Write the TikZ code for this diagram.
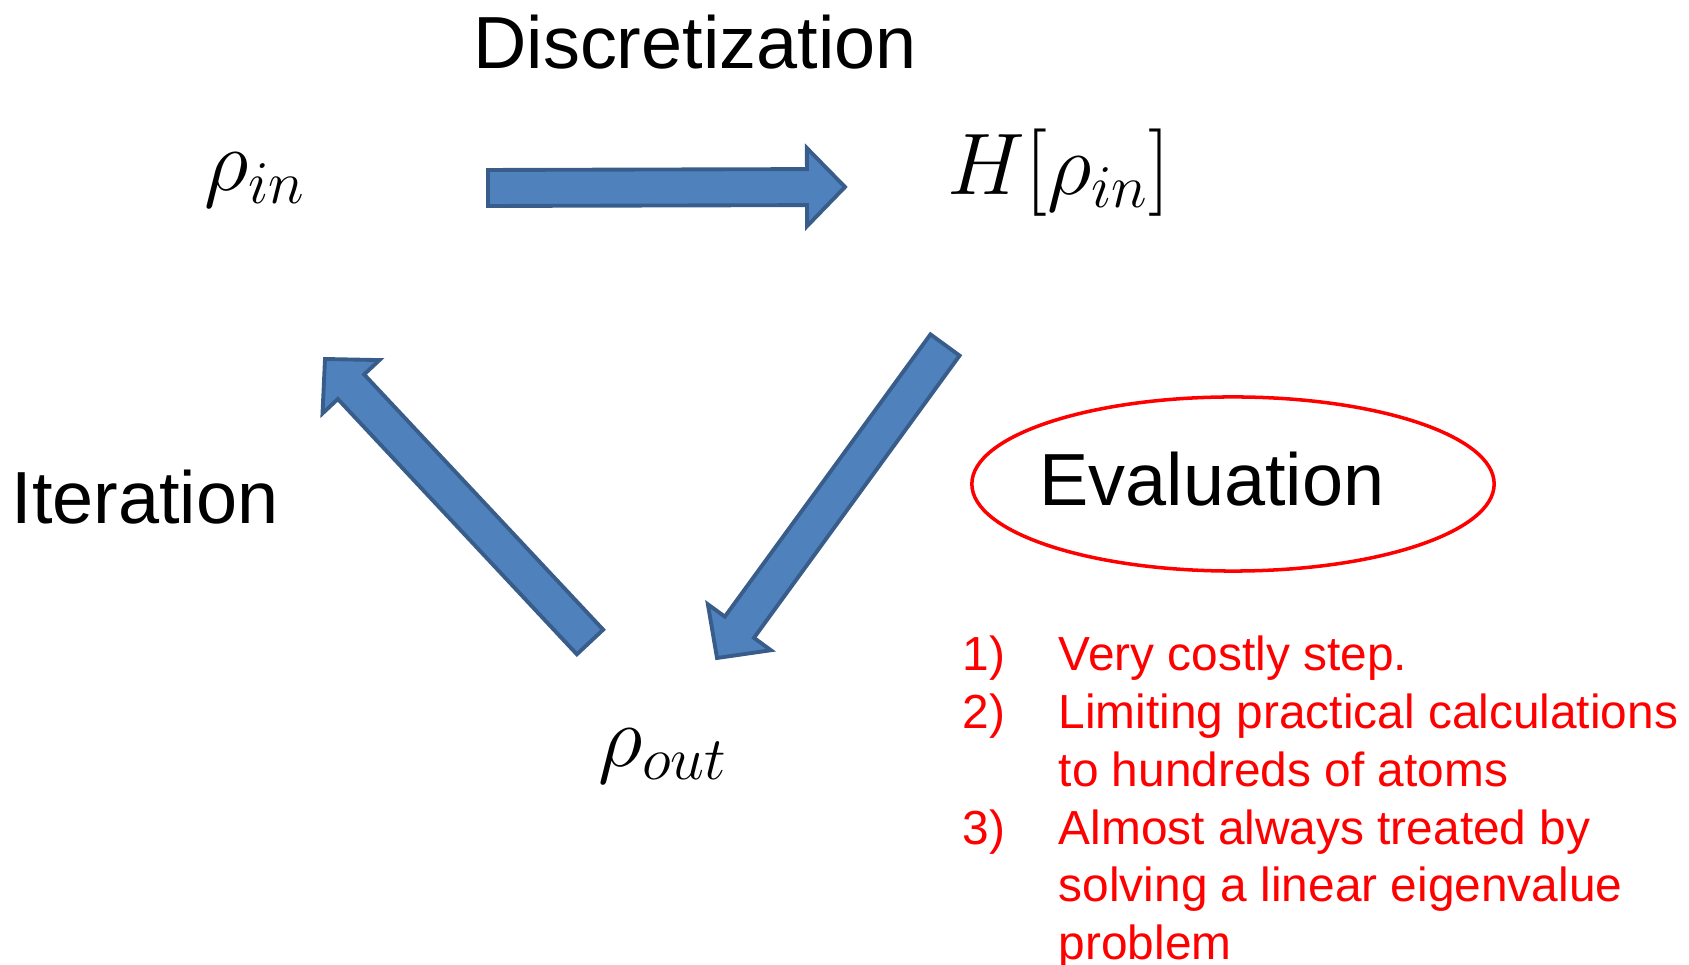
\documentclass[tikz,border=0pt]{standalone}
\usepackage{fontspec}
\setmainfont{Liberation Sans}
\definecolor{cBlue}{HTML}{4F81BD}
\definecolor{cEdge}{HTML}{385D8A}
\definecolor{cRed}{HTML}{FF0000}
\usetikzlibrary{calc,shapes.geometric}

\begin{document}
\begin{tikzpicture}[x=0.01cm,y=-0.01cm,
      ttl/.style={font=\fontsize{21}{25}\selectfont,inner sep=0pt},
      sym/.style={font=\fontsize{25}{30}\selectfont,inner sep=0pt},
      ring/.style={ellipse,draw=cRed,line width=1pt,inner sep=0pt,
                   minimum width=5.22cm,minimum height=1.74cm},
      note/.style={font=\fontsize{13.6}{16.4}\selectfont,color=cRed,inner sep=0pt},
      blk/.style={draw=cEdge,fill=cBlue,line width=1.1pt,
        to path={($(\tikztostart)!.18cm!90:(\tikztotarget)$)
          -- ($(\tikztotarget)!.38cm!(\tikztostart)!.18cm!90:(\tikztotarget)$)
          -- ($(\tikztotarget)!.38cm!(\tikztostart)!.39cm!90:(\tikztotarget)$)
          -- (\tikztotarget)
          -- ($(\tikztotarget)!.38cm!(\tikztostart)!.39cm!-90:(\tikztotarget)$)
          -- ($(\tikztotarget)!.38cm!(\tikztostart)!.18cm!-90:(\tikztotarget)$)
          -- ($(\tikztostart)!.18cm!-90:(\tikztotarget)$) -- cycle}}]
    \useasboundingbox (0,0) rectangle (1689,965);
    \node[ttl] (disc) at (695,42) {Discretization};
    \node[ttl] (iter) at (145,497) {Iteration};
    \node[sym] (rin) at (255,180) {$\rho_{in}$};
    \node[sym] (ham) at (1059,173) {$H[\rho_{in}]$};
    \node[sym] (rout) at (663,756) {$\rho_{out}$};
    \node[ring] (ring) at (1233,484) {};
    \node[ttl] (eval) at (1212,479) {Evaluation};
    \coordinate (d0) at (488,188); \coordinate (d1) at (845,187);
    \coordinate (e0) at (945,345); \coordinate (e1) at (717,658);
    \coordinate (i0) at (590,642); \coordinate (i1) at (325,359);
    \draw[blk] (d0) to (d1);
    \draw[blk] (e0) to (e1);
    \draw[blk] (i0) to (i1);
    \node[note,anchor=base west] (lst) at (962,671) {%
      \begin{tabular}[t]{@{}p{0.96cm}@{}l@{}}
        1) & Very costly step.\\
        2) & Limiting practical calculations\\
           & to hundreds of atoms\\
        3) & Almost always treated by\\
           & solving a linear eigenvalue\\
           & problem
      \end{tabular}};
  \end{tikzpicture}
\end{document}
